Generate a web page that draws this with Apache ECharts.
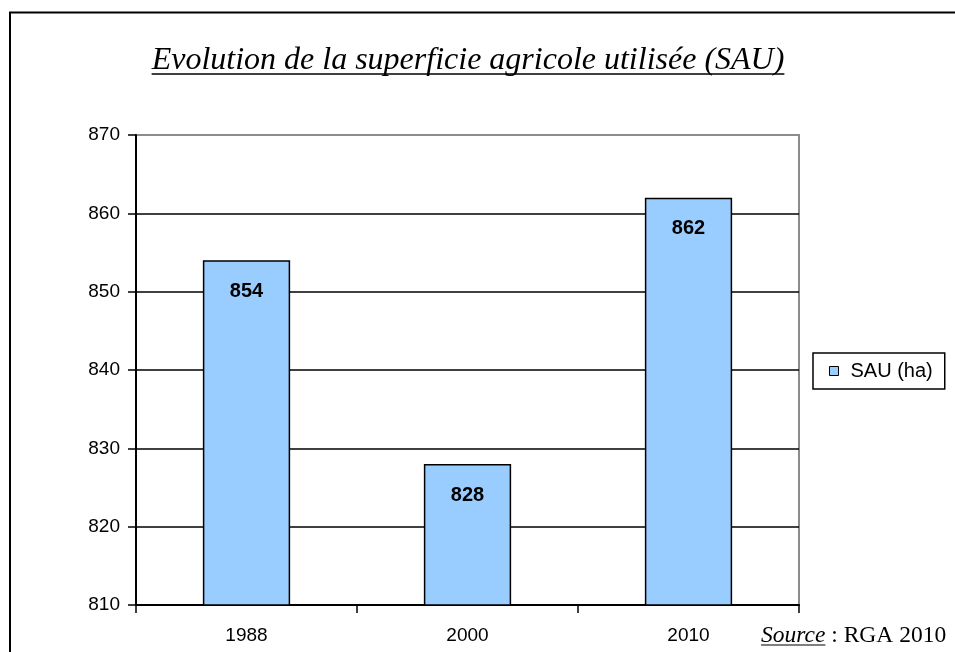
<!DOCTYPE html>
<html>
<head>
<meta charset="utf-8">
<script src="https://cdn.jsdelivr.net/npm/echarts@6/dist/echarts.min.js"></script>
<style>
  html, body { margin: 0; padding: 0; background: #fff; }
  #chart { width: 955px; height: 652px; }
</style>
</head>
<body>
<div id="chart"></div>
<script>
// Chart data
const categories = ['1988', '2000', '2010'];
const sauValues = [854, 828, 862];
const seriesName = 'SAU (ha)';
const titleText = 'Evolution de la superficie agricole utilisée (SAU)';
const sourceLabel = 'Source';
const sourceRest = ' : RGA 2010';

const sans = '"Liberation Sans", Arial, sans-serif';

// measure text to place underlines
const ctx = document.createElement('canvas').getContext('2d');
function textWidth(str, font) { ctx.font = font; return ctx.measureText(str).width; }

const titleFont = 'italic 32px "Liberation Serif"';
const titleW = textWidth(titleText, titleFont);
const titleCx = 468;
const titleMid = 61;

const srcFont = 'italic 23.5px "Liberation Serif"';
const srcRestFont = '23.5px "Liberation Serif"';
const srcX = 761;
const srcMid = 636;
const srcW = textWidth(sourceLabel, srcFont);

const chart = echarts.init(document.getElementById('chart'), null, { renderer: 'canvas' });

chart.setOption({
  animation: false,
  backgroundColor: '#ffffff',
  grid: {
    left: 136, right: 156, top: 135, bottom: 47,
    show: true, borderColor: '#8c8c8c', borderWidth: 2
  },
  legend: {
    left: 813, top: 353,
    orient: 'vertical',
    data: [seriesName],
    icon: 'rect',
    itemWidth: 9, itemHeight: 9,
    padding: [8, 12, 8, 16],
    borderColor: '#000', borderWidth: 1.5,
    textStyle: { fontFamily: sans, fontSize: 20, color: '#000', padding: [0, 0, 0, 7] },
    itemStyle: { borderColor: '#000', borderWidth: 1 }
  },
  xAxis: {
    type: 'category',
    data: categories,
    axisLine: { lineStyle: { color: '#000', width: 2 } },
    axisTick: { show: true, length: 8, lineStyle: { color: '#000', width: 1.5 } },
    axisLabel: { color: '#000', fontFamily: sans, fontSize: 19, margin: 21 },
    splitLine: { show: false }
  },
  yAxis: {
    type: 'value',
    min: 810, max: 870, interval: 10,
    axisLine: { show: true, lineStyle: { color: '#000', width: 2 } },
    axisTick: { show: true, length: 8, lineStyle: { color: '#000', width: 1.5 } },
    axisLabel: { color: '#000', fontFamily: sans, fontSize: 19, margin: 16 },
    splitLine: {
      show: true,
      lineStyle: { color: ['#000', '#000', '#000', '#000', '#000', '#000', '#8c8c8c'], width: 1.5 }
    }
  },
  series: [{
    name: seriesName,
    type: 'bar',
    data: sauValues,
    barWidth: '39.5%',
    itemStyle: { color: '#99ccff', borderColor: '#000', borderWidth: 1.5 },
    label: {
      show: true,
      position: 'insideTop',
      distance: 21,
      color: '#000',
      fontFamily: sans,
      fontSize: 20,
      fontWeight: 'bold'
    }
  }],
  graphic: [
    // outer frame (left and top edges)
    { type: 'polyline', silent: true, z: 100,
      shape: { points: [[10, 652], [10, 12.5], [955, 12.5]] },
      style: { stroke: '#000', lineWidth: 2, fill: null } },
    // title with underline
    { type: 'text', silent: true, z: 100,
      x: titleCx - titleW / 2, y: titleMid,
      style: { text: titleText, font: titleFont, fill: '#000', verticalAlign: 'middle' } },
    { type: 'line', silent: true, z: 100,
      shape: { x1: titleCx - titleW / 2, y1: 74, x2: titleCx + titleW / 2, y2: 74 },
      style: { stroke: '#000', lineWidth: 1.5 } },
    // source note
    { type: 'text', silent: true, z: 100,
      x: srcX, y: srcMid,
      style: { text: sourceLabel, font: srcFont, fill: '#000', verticalAlign: 'middle' } },
    { type: 'line', silent: true, z: 100,
      shape: { x1: srcX, y1: 645, x2: srcX + srcW, y2: 645 },
      style: { stroke: '#000', lineWidth: 1.2 } },
    { type: 'text', silent: true, z: 100,
      x: srcX + srcW, y: srcMid,
      style: { text: sourceRest, font: srcRestFont, fill: '#000', verticalAlign: 'middle' } }
  ]
});
</script>
</body>
</html>
